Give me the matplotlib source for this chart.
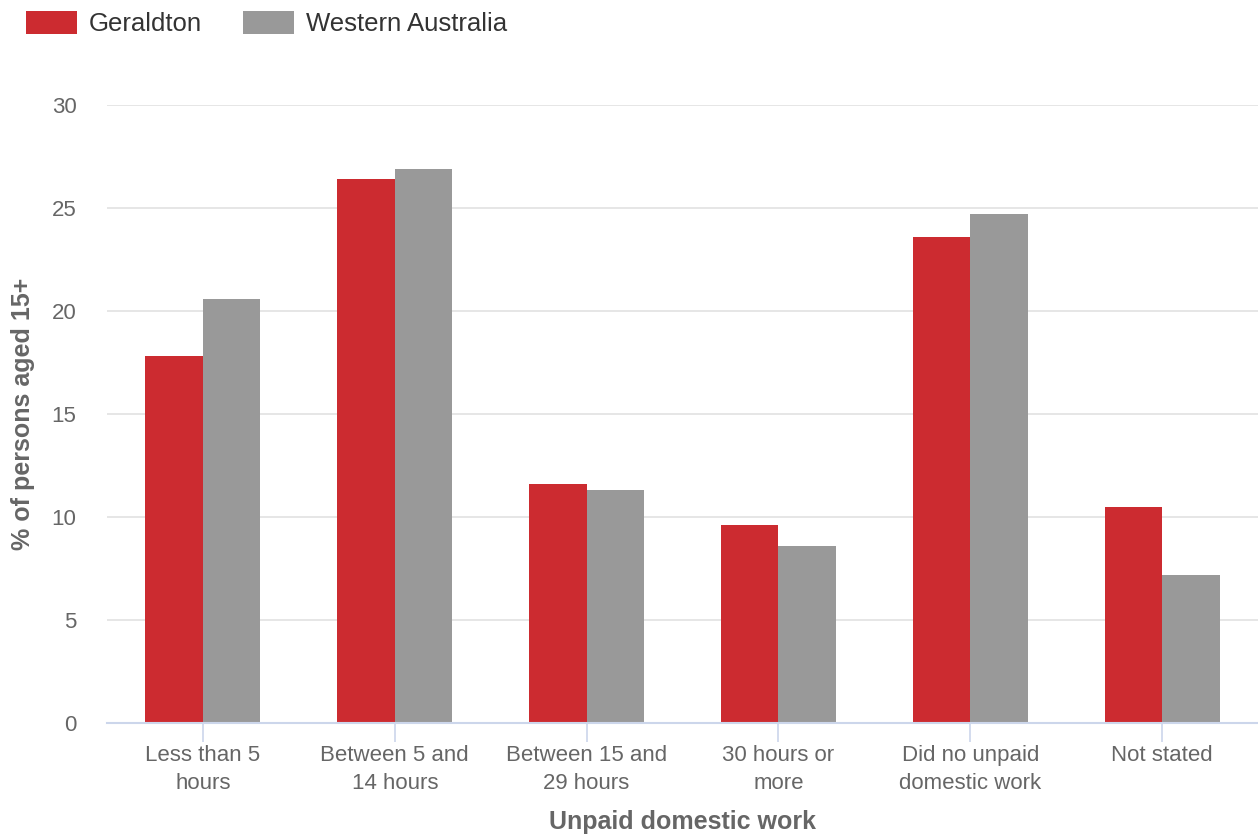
import numpy as np
import matplotlib.pyplot as plt

plt.rcParams['font.family'] = ['Liberation Sans', 'DejaVu Sans']

categories = ['Less than 5\nhours', 'Between 5 and\n14 hours', 'Between 15 and\n29 hours',
              '30 hours or\nmore', 'Did no unpaid\ndomestic work', 'Not stated']
geraldton = [17.8, 26.4, 11.6, 9.6, 23.6, 10.5]
western_australia = [20.6, 26.9, 11.3, 8.6, 24.7, 7.2]

red = '#cc2b30'
grey = '#999999'

fig = plt.figure(figsize=(12.58, 8.39), dpi=100)
ax = fig.add_axes([107 / 1258, 1 - 723 / 839, 1 - 107 / 1258, (723 - 105) / 839])

x = np.arange(len(categories))
w = 0.30
ax.bar(x - w / 2, geraldton, w, color=red, label='Geraldton', zorder=3)
ax.bar(x + w / 2, western_australia, w, color=grey, label='Western Australia', zorder=3)

ax.set_xlim(-0.5, len(categories) - 0.5)
ax.set_ylim(0, 30)
ax.set_yticks([0, 5, 10, 15, 20, 25, 30])
ax.yaxis.grid(True, color='#e6e6e6', linewidth=1.4, zorder=0)
ax.set_axisbelow(True)

for s in ['top', 'right', 'left']:
    ax.spines[s].set_visible(False)
ax.spines['bottom'].set_color('#ccd6eb')
ax.spines['bottom'].set_linewidth(1.5)
ax.spines['bottom'].set_zorder(4)

ax.set_xticks(x)
ax.set_xticklabels(categories, linespacing=1.4)
ax.tick_params(axis='x', length=14, width=1.2, color='#ccd6eb', pad=2,
               labelsize=16, labelcolor='#666666')
ax.tick_params(axis='y', length=0, pad=22, labelsize=16, labelcolor='#666666')

ax.set_xlabel('Unpaid domestic work', fontsize=18, fontweight='bold', color='#666666', labelpad=12)
ax.set_ylabel('% of persons aged 15+', fontsize=18, fontweight='bold', color='#666666', labelpad=12)

fig.legend(loc='upper left', bbox_to_anchor=(0.002, 1.015), ncol=2, frameon=False,
           fontsize=18.5, handlelength=2.0, handleheight=1.0, handletextpad=0.45,
           columnspacing=1.6, labelcolor='#333333')

fig.savefig('out.png', dpi=100)
